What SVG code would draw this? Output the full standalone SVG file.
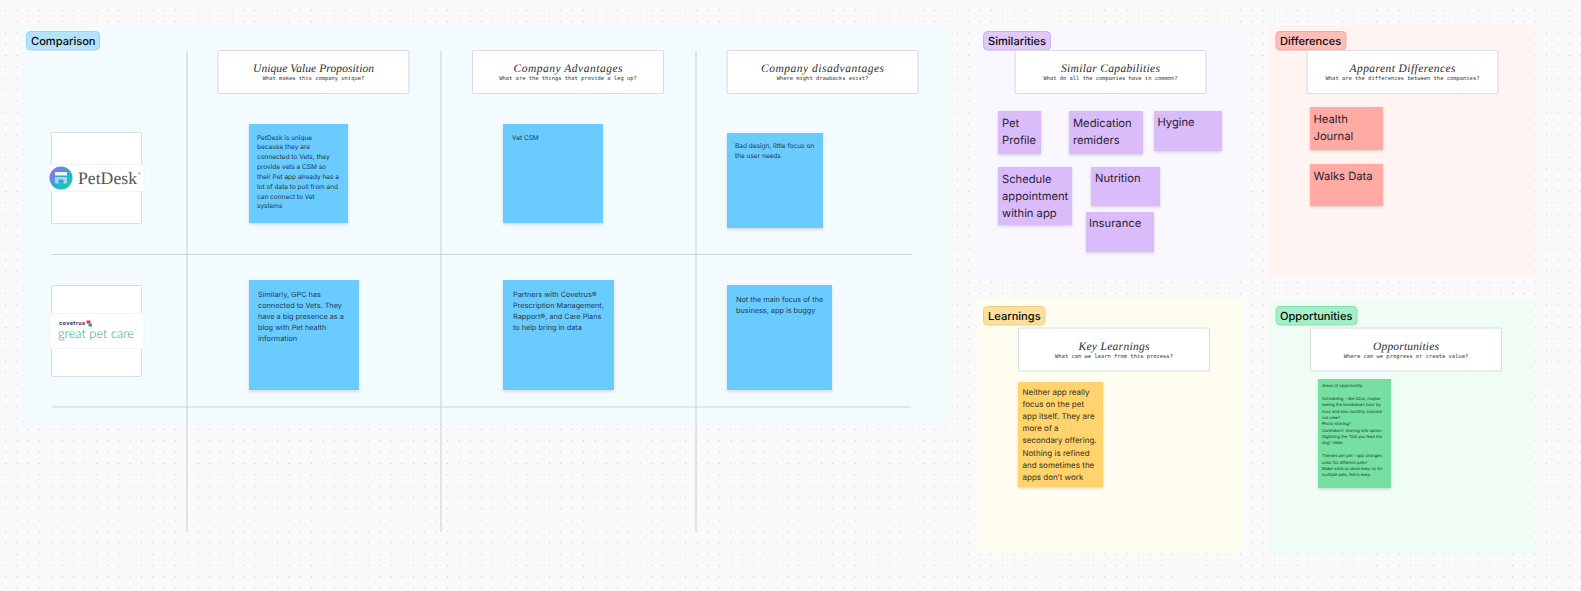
<svg xmlns="http://www.w3.org/2000/svg" width="1581" height="591" viewBox="0 0 1581 591">
<style>
text{font-family:"Inter","Liberation Sans",sans-serif;text-rendering:geometricPrecision}
.tag{font-size:11.1px;font-weight:500;fill:#0b0b0b}
.tagbox{stroke-width:1}
.hbox{fill:#fff;stroke:#dcdde3;stroke-width:1.2}
.h1{font-family:"Liberation Serif",serif;font-style:italic;font-size:11.5px;fill:#2b2b2b;text-anchor:middle}
.h2{font-family:"DejaVu Sans Mono","Liberation Mono",monospace;font-size:5.45px;fill:#333;text-anchor:middle}
.s{filter:url(#sh)}
.blue{fill:#6bcbff}.purple{fill:#dabcfb}.red{fill:#ffaaa3}.yellow{fill:#ffd46e}.green{fill:#76e0a3}
.t75{font-size:6.5px;fill:#1d3a4f}
.t8{font-size:7.3px;fill:#1d3a4f}
.t12{font-size:11.2px;fill:#2a2233}
.t10{font-size:8px;fill:#3a2c10}
.t47{font-size:4.1px;fill:#10301f}
.grid{stroke:#cfd2d6;stroke-width:1.1;fill:none}
.card{fill:#fff;stroke:#dcdde1;stroke-width:1}
.logo{fill:#fff;stroke:#f0f0f2;stroke-width:.8}
</style>
<defs>
<pattern id="dots" width="11.33" height="11.33" patternUnits="userSpaceOnUse" x="5.17" y="9.8">
<rect x="0" y="0" width="1" height="1" fill="#c9c9c9"/>
</pattern>
<filter id="sh" x="-10%" y="-10%" width="120%" height="125%">
<feDropShadow dx="0" dy="1.5" stdDeviation="1.5" flood-color="#000" flood-opacity=".14"/>
</filter>
<linearGradient id="pd" x1="0" y1="0" x2="1" y2="1">
<stop offset="0" stop-color="#b45ff0"/><stop offset=".5" stop-color="#2fa8d8"/><stop offset="1" stop-color="#12d79a"/>
</linearGradient>
</defs>
<rect width="1581" height="591" fill="#fafafa"/>
<rect width="1581" height="591" fill="url(#dots)"/>

<g id="frames">
<rect x="20" y="25" width="928" height="402" rx="2" fill="#f3fbff"/>
<rect x="977" y="25" width="266" height="253" rx="2" fill="#f9f7ff"/>
<rect x="1269" y="25" width="266" height="253" rx="2" fill="#fff4f2"/>
<rect x="977" y="300" width="266" height="253" rx="2" fill="#fffdf0"/>
<rect x="1269" y="300" width="266" height="253" rx="2" fill="#f0fdf5"/>
</g>

<g id="connectors">
<line class="grid" x1="187" y1="51" x2="187" y2="532"/>
<line class="grid" x1="441" y1="51" x2="441" y2="532"/>
<line class="grid" x1="696" y1="51" x2="696" y2="532"/>
<line class="grid" x1="52" y1="254.500" x2="911" y2="254.500"/>
<line class="grid" x1="52" y1="407" x2="911" y2="407"/>
</g>

<g id="tag-comparison"><rect class="tagbox" x="26.500" y="31.500" width="73" height="18.500" rx="4" fill="#b5e3fb" stroke="#9bd2f0"/><text class="tag" x="31" y="45">Comparison</text></g>
<g id="tag-similarities"><rect class="tagbox" x="983.500" y="31.500" width="67" height="18.500" rx="4" fill="#e0c9fa" stroke="#cdb0ee"/><text class="tag" x="988" y="45">Similarities</text></g>
<g id="tag-differences"><rect class="tagbox" x="1276" y="31.500" width="70" height="18.500" rx="4" fill="#ffbdb8" stroke="#f3a5a0"/><text class="tag" x="1280" y="45">Differences</text></g>
<g id="tag-learnings"><rect class="tagbox" x="983.500" y="306.500" width="61.500" height="18.500" rx="4" fill="#fde0a0" stroke="#efcd85"/><text class="tag" x="988" y="320">Learnings</text></g>
<g id="tag-opportunities"><rect class="tagbox" x="1276" y="306.500" width="81" height="18.500" rx="4" fill="#a3f0c6" stroke="#86e0ae"/><text class="tag" x="1280" y="320">Opportunities</text></g>

<g id="header-uvp"><rect class="hbox" x="218" y="50.500" width="191" height="43" rx="1"/><text class="h1" x="313.500" y="72" textLength="121">Unique Value Proposition</text><text class="h2" x="313.500" y="80.300">What makes this company unique?</text></g>
<g id="header-advantages"><rect class="hbox" x="472.500" y="50.500" width="191" height="43" rx="1"/><text class="h1" x="568" y="72" textLength="109">Company Advantages</text><text class="h2" x="568" y="80.300">What are the things that provide a leg up?</text></g>
<g id="header-disadvantages"><rect class="hbox" x="727" y="50.500" width="191" height="43" rx="1"/><text class="h1" x="822.500" y="72" textLength="123">Company disadvantages</text><text class="h2" x="822.500" y="80.300">Where might drawbacks exist?</text></g>
<g id="header-similar"><rect class="hbox" x="1015" y="50.500" width="191" height="43" rx="1"/><text class="h1" x="1110.500" y="72" textLength="99">Similar Capabilities</text><text class="h2" x="1110.500" y="80.300">What do all the companies have in common?</text></g>
<g id="header-differences"><rect class="hbox" x="1307" y="50.500" width="191" height="43" rx="1"/><text class="h1" x="1402.500" y="72" textLength="106">Apparent Differences</text><text class="h2" x="1402.500" y="80.300">What are the differences between the companies?</text></g>
<g id="header-learnings"><rect class="hbox" x="1018.500" y="328" width="191" height="43" rx="1"/><text class="h1" x="1114" y="349.500" textLength="71">Key Learnings</text><text class="h2" x="1114" y="357.800">What can we learn from this process?</text></g>
<g id="header-opportunities"><rect class="hbox" x="1310.500" y="328" width="191" height="43" rx="1"/><text class="h1" x="1406" y="349.500" textLength="66">Opportunities</text><text class="h2" x="1406" y="357.800">Where can we progress or create value?</text></g>

<g id="logo-petdesk">
<rect class="card" x="51.500" y="132.500" width="90" height="91" rx="1"/>
<rect class="logo" x="49" y="164.500" width="95" height="27" rx="1"/>
<circle cx="61" cy="178" r="11.500" fill="url(#pd)"/>
<rect x="55" y="172" width="12" height="3.500" fill="#fff" opacity=".9"/>
<rect x="55" y="177" width="12" height="6.500" fill="#fff" opacity=".55"/>
<rect x="58.500" y="179.500" width="5" height="4" fill="#2aa9c8"/>
<text x="78" y="183.500" font-size="17.500" style="font-family:'Liberation Serif',serif" fill="#55565a" textLength="59" lengthAdjust="spacingAndGlyphs">PetDesk</text>
<text x="138" y="175" font-size="4" fill="#777">®</text>
</g>
<g id="logo-greatpetcare">
<rect class="card" x="51.500" y="285.500" width="90" height="91" rx="1"/>
<rect class="logo" x="50" y="313.500" width="94" height="35" rx="2"/>
<text x="59" y="324.800" font-size="5.400" font-weight="700" fill="#27346a" textLength="26">covetrus</text>
<rect x="86.500" y="320.500" width="4" height="3" fill="#e8344e"/>
<rect x="88.500" y="323.500" width="3.500" height="3" fill="#1aa6a0"/>
<text x="58" y="338" font-size="13" font-weight="300" style="font-family:'Lato','Noto Sans',sans-serif" fill="#2fa37c" textLength="76" lengthAdjust="spacingAndGlyphs">great pet care</text>
<text x="134.500" y="332" font-size="3" fill="#2fa37c">™</text>
</g>

<g id="note-uvp-1"><rect class="s blue" x="249" y="124" width="99" height="99"/><text class="t75"><tspan x="257" y="139.500">PetDesk is unique</tspan><tspan x="257" y="149.400">because they are</tspan><tspan x="257" y="159.200">connected to Vets, they</tspan><tspan x="257" y="169.100">provide vets a CSM so</tspan><tspan x="257" y="178.900">their Pet app already has a</tspan><tspan x="257" y="188.700">lot of data to pull from and</tspan><tspan x="257" y="198.500">can connect to Vet</tspan><tspan x="257" y="208.400">systems</tspan></text></g>
<g id="note-adv-1"><rect class="s blue" x="503" y="124" width="100" height="99"/><text class="t75" x="512" y="139.500">Vet CSM</text></g>
<g id="note-dis-1"><rect class="s blue" x="727" y="133" width="96" height="95"/><text class="t75"><tspan x="735" y="148">Bad design, little focus on</tspan><tspan x="735" y="157.500">the user needs</tspan></text></g>
<g id="note-uvp-2"><rect class="s blue" x="249" y="280" width="110" height="110"/><text class="t8"><tspan x="258" y="297.400">Similarly, GPC has</tspan><tspan x="258" y="308.400">connected to Vets. They</tspan><tspan x="258" y="319.400">have a big presence as a</tspan><tspan x="258" y="330.400">blog with Pet health</tspan><tspan x="258" y="341.400">information</tspan></text></g>
<g id="note-adv-2"><rect class="s blue" x="503" y="280" width="111" height="110"/><text class="t8"><tspan x="513" y="297.400">Partners with Covetrus®</tspan><tspan x="513" y="308.400">Prescription Management,</tspan><tspan x="513" y="319.400">Rapport®, and Care Plans</tspan><tspan x="513" y="330.400">to help bring in data</tspan></text></g>
<g id="note-dis-2"><rect class="s blue" x="727" y="285" width="105" height="105"/><text class="t8"><tspan x="736" y="301.500">Not the main focus of the</tspan><tspan x="736" y="312.500">business, app is buggy</tspan></text></g>

<g id="note-pet"><rect class="s purple" x="998" y="111" width="43" height="43"/><text class="t12"><tspan x="1002" y="126.700">Pet</tspan><tspan x="1002" y="143.700">Profile</tspan></text></g>
<g id="note-medication"><rect class="s purple" x="1069" y="111" width="74" height="43"/><text class="t12"><tspan x="1073" y="126.700">Medication</tspan><tspan x="1073" y="143.700">remiders</tspan></text></g>
<g id="note-hygine"><rect class="s purple" x="1154" y="111" width="68" height="40"/><text class="t12" x="1157.500" y="125.700">Hygine</text></g>
<g id="note-schedule"><rect class="s purple" x="998" y="167" width="74" height="58"/><text class="t12"><tspan x="1002" y="182.700">Schedule</tspan><tspan x="1002" y="199.700">appointment</tspan><tspan x="1002" y="216.700">within app</tspan></text></g>
<g id="note-nutrition"><rect class="s purple" x="1091" y="167" width="69" height="39"/><text class="t12" x="1095" y="181.700">Nutrition</text></g>
<g id="note-insurance"><rect class="s purple" x="1086" y="212" width="68" height="40"/><text class="t12" x="1089" y="226.700">Insurance</text></g>

<g id="note-health"><rect class="s red" x="1310" y="107" width="73" height="43"/><text class="t12"><tspan x="1313.500" y="122.700">Health</tspan><tspan x="1313.500" y="139.700">Journal</tspan></text></g>
<g id="note-walks"><rect class="s red" x="1310" y="164" width="73" height="42"/><text class="t12" x="1313.500" y="179.700">Walks Data</text></g>

<g id="note-learning"><rect class="s yellow" x="1018" y="382" width="85" height="105"/><text class="t10"><tspan x="1022.500" y="394.700">Neither app really</tspan><tspan x="1022.500" y="406.900">focus on the pet</tspan><tspan x="1022.500" y="419.100">app itself. They are</tspan><tspan x="1022.500" y="431.200">more of a</tspan><tspan x="1022.500" y="443.400">secondary offering.</tspan><tspan x="1022.500" y="455.600">Nothing is refined</tspan><tspan x="1022.500" y="467.800">and sometimes the</tspan><tspan x="1022.500" y="480">apps don’t work</tspan></text></g>

<g id="note-opportunity"><rect class="s green" x="1318" y="379" width="73" height="109"/><text class="t47"><tspan x="1322" y="387">Areas of opportunity:</tspan><tspan x="1322" y="399.800">Scheduling - like GCal, maybe</tspan><tspan x="1322" y="406.200">seeing the breakdown hour by</tspan><tspan x="1322" y="412.600">hour and also monthly zoomed</tspan><tspan x="1322" y="418.900">out view?</tspan><tspan x="1322" y="425.300">Photo sharing?</tspan><tspan x="1322" y="431.700">Caretakers' sharing info option</tspan><tspan x="1322" y="438">Digitizing the "Did you feed the</tspan><tspan x="1322" y="444.400">dog" slider</tspan><tspan x="1322" y="457.200">Themes per pet - app changes</tspan><tspan x="1322" y="463.600">color for different pets?</tspan><tspan x="1322" y="469.900">Make mark as done easy so for</tspan><tspan x="1322" y="476.300">multiple pets, fed is easy.</tspan></text></g>
</svg>
